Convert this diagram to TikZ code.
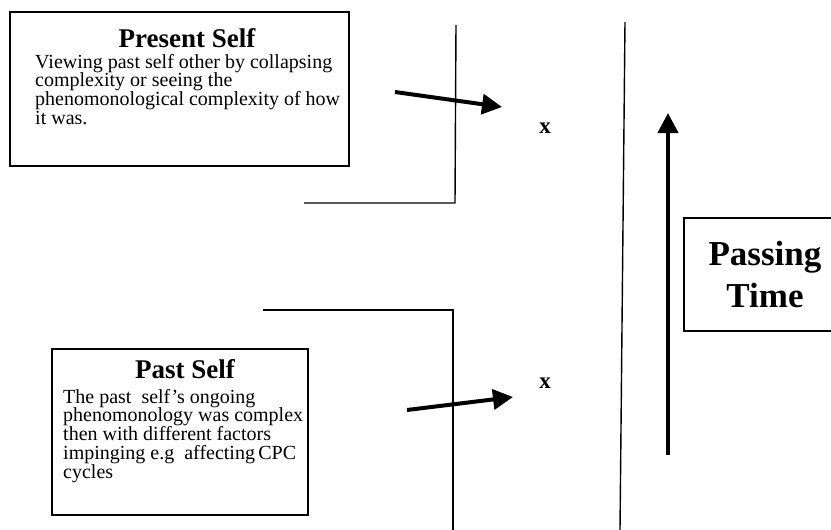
\documentclass[tikz,border=0pt]{standalone}
\usepackage{fontspec}
\setmainfont{Liberation Serif}
\usetikzlibrary{arrows.meta}

\begin{document}
\begin{tikzpicture}[x=1pt,y=-1pt,
                selfbox/.style={draw=black, line width=1.6pt, rectangle},
                titletext/.style={font=\fontsize{27}{29}\selectfont\bfseries},
                bodytext/.style={font=\fontsize{20}{18.7}\selectfont, align=left, anchor=north west},
                thinline/.style={black, line width=1.4pt},
                bigarrow/.style={black, line width=4pt, -{Triangle[length=20pt,width=20pt]}},
                xmark/.style={font=\fontsize{23}{23}\selectfont\bfseries}]
                \tikzstyle{every node}+=[inner sep=0pt]
                \useasboundingbox (0,0) rectangle (831,530);
                \clip (0,0) rectangle (831,530);
                % present self
                \node [selfbox, minimum width=339, minimum height=154] (present) at (179.5,89) {};
                \node [titletext] (presenttitle) at (187,38) {Present Self};
                \node [bodytext] (presentbody) at (35,54) {Viewing past self other by collapsing\\complexity or seeing the\\phenomonological complexity of how\\it was.};
                % past self
                \node [selfbox, minimum width=256, minimum height=166] (past) at (180,432) {};
                \node [titletext] (pasttitle) at (185,369) {Past Self};
                \node [bodytext] (pastbody) at (63,389) {The past\ \ self's ongoing\\phenomonology was complex\\then with different factors\\impinging e.g\ \ affecting\,CPC\\cycles};
                % passing time
                \node [selfbox, minimum width=162, minimum height=113, align=center,
                       font=\fontsize{35}{42}\selectfont\bfseries] (time) at (765,274.5) {Passing\\Time};
                % brackets
                \coordinate (uptop) at (456,25);
                \coordinate (upcorner) at (455,203);
                \coordinate (upend) at (304,203);
                \draw [thinline] (upend) -- (upcorner) -- (uptop);
                \coordinate (lowend) at (263,310);
                \coordinate (lowcorner) at (453,310);
                \coordinate (lowbottom) at (453,530);
                \draw [thinline] (lowend) -- (lowcorner) -- (lowbottom);
                \coordinate (nowtop) at (625,22);
                \coordinate (nowbottom) at (620,530);
                \draw [thinline] (nowtop) -- (nowbottom);
                % arrows
                \coordinate (presentfrom) at (395,92);
                \coordinate (presentto) at (502,107);
                \draw [bigarrow] (presentfrom) -- (presentto);
                \coordinate (pastfrom) at (407,410);
                \coordinate (pastto) at (513,397);
                \draw [bigarrow] (pastfrom) -- (pastto);
                \coordinate (timefrom) at (668,455);
                \coordinate (timeto) at (668,113);
                \draw [bigarrow] (timefrom) -- (timeto);
                % x marks
                \node [xmark] (presentx) at (545,128) {x};
                \node [xmark] (pastx) at (545,383) {x};
\end{tikzpicture}
\end{document}
